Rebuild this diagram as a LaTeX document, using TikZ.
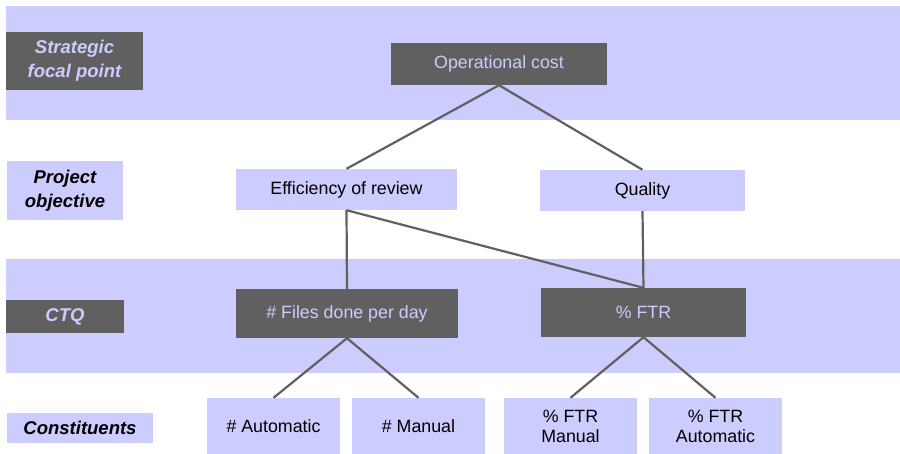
\documentclass[tikz,border=0pt]{standalone}
\usepackage{fontspec}
\setmainfont{Liberation Sans}
\usepackage{xcolor}
\usetikzlibrary{positioning}
\definecolor{bandblue}{HTML}{CCCCFF}
\definecolor{darkgrey}{HTML}{606060}
\tikzset{
  % fasce di sfondo
  band/.style={fill=bandblue,draw=none},
  % riquadri
  box/.style={rectangle,inner sep=0,align=center,font=\fontsize{17.8}{20}\selectfont},
  box light/.style={box,fill=bandblue,text=black},
  box dark/.style={box,fill=darkgrey,text=bandblue},
  % etichette di livello
  level dark/.style={box dark,font=\fontsize{18.5}{24}\selectfont\bfseries\itshape},
  level light/.style={box light,font=\fontsize{18.5}{24}\selectfont\bfseries\itshape},
  % connessioni
  connect/.style={line width=2.2pt,darkgrey}
}
\begin{document}
\begin{tikzpicture}[x=1pt,y=-1pt]
        \useasboundingbox (0,0) rectangle (900,454);
        \fill[band] (6,6) rectangle (900,120);
        \fill[band] (6,259) rectangle (900,373);
        % livelli
        \node[level dark,minimum width=137,minimum height=58] (strat) at (74.5,61) {Strategic\\focal point};
        \node[level light,minimum width=116,minimum height=59] (projobj) at (65,190.5) {Project\\objective};
        \node[level dark,minimum width=118,minimum height=33] (ctqlab) at (65,316.5) {CTQ};
        \node[level light,minimum width=146,minimum height=30] (constit) at (80,428) {Constituents};
        % albero
        \node[box dark,minimum width=216,minimum height=42] (opcost) at (499,64) {Operational cost};
        \node[box light,minimum width=221,minimum height=41] (effic) at (346.5,189.5) {Efficiency of review};
        \node[box light,minimum width=205,minimum height=41] (quality) at (642.5,190.5) {Quality};
        \node[box dark,minimum width=222,minimum height=49] (files) at (347,313.5) {\# Files done per day};
        \node[box dark,minimum width=205,minimum height=49] (ftr) at (643.5,312.5) {\% FTR};
        \foreach \nm/\px/\txt in {auto/273.5/\# Automatic, manual/418.5/\# Manual,
                                  ftrman/570.5/\% FTR\\Manual, ftrauto/715.5/\% FTR\\Automatic}{
          \node[box light,minimum width=133,minimum height=56] (\nm) at (\px,426) {\txt};
        }
        \draw[connect] (opcost.south) -- (effic.north);
        \draw[connect] (opcost.south) -- (quality.north);
        \draw[connect] (effic.south) -- (files.north);
        \draw[connect] (effic.south) -- (ftr.north);
        \draw[connect] (quality.south) -- (ftr.north);
        \draw[connect] (files.south) -- (auto.north);
        \draw[connect] (files.south) -- (manual.north);
        \draw[connect] (ftr.south) -- (ftrman.north);
        \draw[connect] (ftr.south) -- (ftrauto.north);
      \end{tikzpicture}
\end{document}
